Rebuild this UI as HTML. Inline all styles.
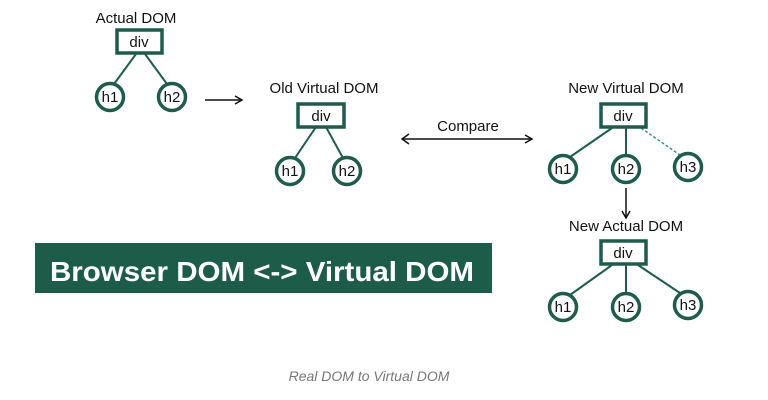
<!DOCTYPE html>
<html><head><style>
body{margin:0;background:#fff;}
svg{display:block;}
text{font-family:"Liberation Sans",sans-serif;}
</style></head><body>
<svg width="768" height="400" viewBox="0 0 768 400" xmlns="http://www.w3.org/2000/svg">
<defs>
<marker id="ah" markerWidth="10" markerHeight="10" refX="8" refY="5" orient="auto" markerUnits="userSpaceOnUse">
<path d="M1,1 L8,5 L1,9" fill="none" stroke="#111" stroke-width="1.5"/>
</marker>
</defs>
<g stroke="#1f5c4b" stroke-width="2" fill="none">
<line x1="136" y1="54" x2="114" y2="84"/><line x1="145" y1="54" x2="167" y2="84"/>
<line x1="316" y1="127" x2="295" y2="158"/><line x1="326" y1="127" x2="343" y2="158"/>
<line x1="612" y1="128" x2="570" y2="157"/><line x1="626" y1="128" x2="626" y2="155"/>
<line x1="641" y1="128" x2="680" y2="155" stroke-dasharray="3,2" stroke-width="1.5" stroke="#3a9a7a"/>
<line x1="612" y1="265" x2="570" y2="295"/><line x1="626" y1="265" x2="626" y2="293"/><line x1="638" y1="265" x2="680" y2="293"/>
</g>
<g stroke="#1f5c4b" stroke-width="3.5" fill="#fff">
<rect x="117" y="30" width="45" height="23"/>
<rect x="298" y="104" width="46" height="23"/>
<rect x="601" y="104" width="45" height="23"/>
<rect x="601" y="241" width="45" height="23"/>
<circle cx="110" cy="97" r="13.5"/><circle cx="172" cy="97" r="13.5"/>
<circle cx="290" cy="171" r="13.5"/><circle cx="347" cy="171" r="13.5"/>
<circle cx="563" cy="169" r="13.5"/><circle cx="626" cy="169" r="13.5"/><circle cx="688" cy="167" r="13.5"/>
<circle cx="563" cy="307" r="13.5"/><circle cx="626" cy="307" r="13.5"/><circle cx="688" cy="305" r="13.5"/>
</g>
<g font-size="15" fill="#111" text-anchor="middle">
<text x="136" y="23">Actual DOM</text>
<text x="324" y="93">Old Virtual DOM</text>
<text x="626" y="93">New Virtual DOM</text>
<text x="626" y="231">New Actual DOM</text>
<text x="468" y="131">Compare</text>
<text x="139" y="47">div</text><text x="321" y="121">div</text><text x="623" y="121">div</text><text x="623" y="258">div</text>
<text x="110" y="102">h1</text><text x="172" y="102">h2</text>
<text x="290" y="176">h1</text><text x="347" y="176">h2</text>
<text x="563" y="174">h1</text><text x="626" y="174">h2</text><text x="688" y="172">h3</text>
<text x="563" y="312">h1</text><text x="626" y="312">h2</text><text x="688" y="310">h3</text>
</g>
<g stroke="#111" stroke-width="1.5">
<line x1="205" y1="100" x2="242" y2="100" marker-end="url(#ah)"/>
<line x1="402" y1="139" x2="532" y2="139" marker-end="url(#ah)"/>
<line x1="626" y1="188" x2="626" y2="218" marker-end="url(#ah)"/>
</g>
<path d="M409,134 L402,139 L409,144" fill="none" stroke="#111" stroke-width="1.5"/>
<rect x="35" y="243" width="457" height="50" fill="#1e5c4a"/>
<text x="262" y="281" text-anchor="middle" fill="#fff" font-size="28" font-weight="bold" textLength="424" lengthAdjust="spacingAndGlyphs">Browser DOM &lt;-&gt; Virtual DOM</text>
<text x="369" y="381" text-anchor="middle" fill="#777" font-size="14" font-style="italic">Real DOM to Virtual DOM</text>
</svg>
</body></html>
